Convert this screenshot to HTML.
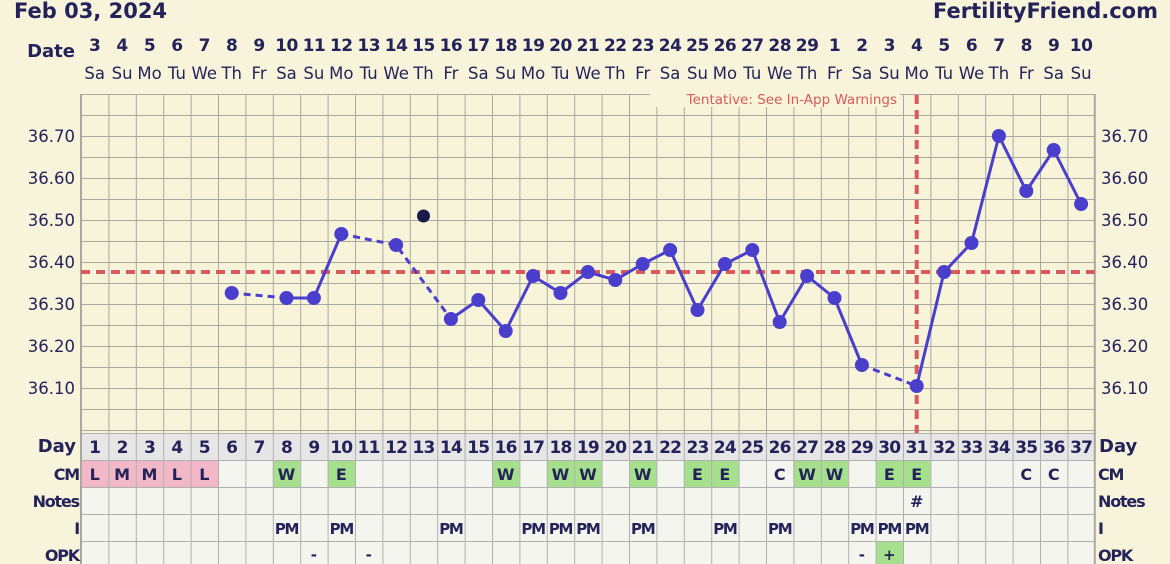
<!DOCTYPE html>
<html><head><meta charset="utf-8"><style>
html,body{margin:0;padding:0;background:#f8f4dc;}
svg{display:block;font-family:"DejaVu Sans","Liberation Sans",sans-serif;}
.b{font-weight:bold;fill:#23235a;}
.n{fill:#23235a;}
</style></head><body>
<svg width="1170" height="564" viewBox="0 0 1170 564" xmlns="http://www.w3.org/2000/svg">
<defs>
<pattern id="g" x="81" y="94" width="27.4" height="21" patternUnits="userSpaceOnUse">
<path d="M0 0V21M0 0H27.4" stroke="#a8a8a0" stroke-width="2" fill="none"/>
</pattern>
<pattern id="t" x="81" y="433" width="27.4" height="27" patternUnits="userSpaceOnUse">
<path d="M0 0V27M0 0H27.4" stroke="#b0b0b0" stroke-width="2" fill="none"/>
</pattern>
</defs>
<rect width="1170" height="564" fill="#f8f4dc"/>
<rect x="81" y="94" width="1014" height="339" fill="#f8f4da"/>
<rect x="81" y="94" width="1014" height="339" fill="url(#g)"/>
<rect x="81" y="433" width="1014" height="131" fill="#f5f5ef"/>
<rect x="81" y="433" width="1014" height="27" fill="#e6e6e6"/>
<g fill="#f2b8c8"><rect x="81" y="460" width="137" height="27"/></g>
<g fill="#a6e08c">
<rect x="272.8" y="460" width="27.4" height="27"/><rect x="327.6" y="460" width="27.4" height="27"/>
<rect x="492" y="460" width="27.4" height="27"/><rect x="546.8" y="460" width="54.8" height="27"/>
<rect x="629" y="460" width="27.4" height="27"/><rect x="683.8" y="460" width="54.8" height="27"/>
<rect x="793.4" y="460" width="54.8" height="27"/><rect x="875.6" y="460" width="54.8" height="27"/>
<rect x="875.6" y="541" width="27.4" height="23"/>
</g>
<rect x="81" y="433" width="1014" height="131" fill="url(#t)"/>
<path d="M1094.8 94V564M81 94V564" stroke="#a8a8a0" stroke-width="2"/>

<text x="14" y="18" class="b" font-size="21">Feb 03, 2024</text>
<text x="1158" y="18" class="b" font-size="21" text-anchor="end">FertilityFriend.com</text>
<text x="75" y="57" class="b" font-size="18" text-anchor="end">Date</text>

<g class="b" font-size="17" text-anchor="middle" letter-spacing="-0.5">
<text x="94.7" y="51">3</text><text x="122.1" y="51">4</text><text x="149.5" y="51">5</text><text x="176.9" y="51">6</text><text x="204.3" y="51">7</text><text x="231.7" y="51">8</text><text x="259.1" y="51">9</text><text x="286.5" y="51">10</text><text x="313.9" y="51">11</text><text x="341.3" y="51">12</text><text x="368.7" y="51">13</text><text x="396.1" y="51">14</text><text x="423.5" y="51">15</text><text x="450.9" y="51">16</text><text x="478.3" y="51">17</text><text x="505.7" y="51">18</text><text x="533.1" y="51">19</text><text x="560.5" y="51">20</text><text x="587.9" y="51">21</text><text x="615.3" y="51">22</text><text x="642.7" y="51">23</text><text x="670.1" y="51">24</text><text x="697.5" y="51">25</text><text x="724.9" y="51">26</text><text x="752.3" y="51">27</text><text x="779.7" y="51">28</text><text x="807.1" y="51">29</text><text x="834.5" y="51">1</text><text x="861.9" y="51">2</text><text x="889.3" y="51">3</text><text x="916.7" y="51">4</text><text x="944.1" y="51">5</text><text x="971.5" y="51">6</text><text x="998.9" y="51">7</text><text x="1026.3" y="51">8</text><text x="1053.7" y="51">9</text><text x="1081.1" y="51">10</text>
</g>
<g class="n" font-size="16.5" text-anchor="middle">
<text x="94.7" y="79">Sa</text><text x="122.1" y="79">Su</text><text x="149.5" y="79">Mo</text><text x="176.9" y="79">Tu</text><text x="204.3" y="79">We</text><text x="231.7" y="79">Th</text><text x="259.1" y="79">Fr</text><text x="286.5" y="79">Sa</text><text x="313.9" y="79">Su</text><text x="341.3" y="79">Mo</text><text x="368.7" y="79">Tu</text><text x="396.1" y="79">We</text><text x="423.5" y="79">Th</text><text x="450.9" y="79">Fr</text><text x="478.3" y="79">Sa</text><text x="505.7" y="79">Su</text><text x="533.1" y="79">Mo</text><text x="560.5" y="79">Tu</text><text x="587.9" y="79">We</text><text x="615.3" y="79">Th</text><text x="642.7" y="79">Fr</text><text x="670.1" y="79">Sa</text><text x="697.5" y="79">Su</text><text x="724.9" y="79">Mo</text><text x="752.3" y="79">Tu</text><text x="779.7" y="79">We</text><text x="807.1" y="79">Th</text><text x="834.5" y="79">Fr</text><text x="861.9" y="79">Sa</text><text x="889.3" y="79">Su</text><text x="916.7" y="79">Mo</text><text x="944.1" y="79">Tu</text><text x="971.5" y="79">We</text><text x="998.9" y="79">Th</text><text x="1026.3" y="79">Fr</text><text x="1053.7" y="79">Sa</text><text x="1081.1" y="79">Su</text>
</g>

<g class="n" font-size="16.5" text-anchor="end">
<text x="75" y="142">36.70</text><text x="75" y="184">36.60</text><text x="75" y="226">36.50</text><text x="75" y="268">36.40</text><text x="75" y="310">36.30</text><text x="75" y="352">36.20</text><text x="75" y="394">36.10</text>
</g>
<g class="n" font-size="16.5">
<text x="1101" y="142">36.70</text><text x="1101" y="184">36.60</text><text x="1101" y="226">36.50</text><text x="1101" y="268">36.40</text><text x="1101" y="310">36.30</text><text x="1101" y="352">36.20</text><text x="1101" y="394">36.10</text>
</g>

<rect x="650" y="90" width="250" height="17" fill="#f8f4da"/>
<text x="897" y="104" font-size="13.5" fill="#d85a5a" text-anchor="end">Tentative: See In-App Warnings</text>

<line x1="81" y1="272" x2="1095" y2="272" stroke="#d85a5a" stroke-width="4" stroke-dasharray="9,6"/>
<line x1="916.7" y1="95" x2="916.7" y2="433" stroke="#d85a5a" stroke-width="4" stroke-dasharray="9,6"/>

<g stroke="#4a3fcc" stroke-width="3" fill="none">
<path d="M231.7 293L286.5 298M341.3 234L396.1 245L450.9 319M861.9 365L916.7 386" stroke-dasharray="7,5"/>
<path d="M286.5 298L313.9 298L341.3 234"/>
<path d="M450.9 319L478.3 300L505.7 331L533.1 276L560.5 293L587.9 272L615.3 280L642.7 264L670.1 250L697.5 310L724.9 264L752.3 250L779.7 322L807.1 276L834.5 298L861.9 365"/>
<path d="M916.7 386L944.1 272L971.5 243L998.9 136L1026.3 191L1053.7 150L1081.1 204"/>
</g>
<g fill="#4a3fcc">
<circle cx="231.7" cy="293" r="7"/><circle cx="286.5" cy="298" r="7"/><circle cx="313.9" cy="298" r="7"/><circle cx="341.3" cy="234" r="7"/><circle cx="396.1" cy="245" r="7"/><circle cx="450.9" cy="319" r="7"/><circle cx="478.3" cy="300" r="7"/><circle cx="505.7" cy="331" r="7"/><circle cx="533.1" cy="276" r="7"/><circle cx="560.5" cy="293" r="7"/><circle cx="587.9" cy="272" r="7"/><circle cx="615.3" cy="280" r="7"/><circle cx="642.7" cy="264" r="7"/><circle cx="670.1" cy="250" r="7"/><circle cx="697.5" cy="310" r="7"/><circle cx="724.9" cy="264" r="7"/><circle cx="752.3" cy="250" r="7"/><circle cx="779.7" cy="322" r="7"/><circle cx="807.1" cy="276" r="7"/><circle cx="834.5" cy="298" r="7"/><circle cx="861.9" cy="365" r="7"/><circle cx="916.7" cy="386" r="7"/><circle cx="944.1" cy="272" r="7"/><circle cx="971.5" cy="243" r="7"/><circle cx="998.9" cy="136" r="7"/><circle cx="1026.3" cy="191" r="7"/><circle cx="1053.7" cy="150" r="7"/><circle cx="1081.1" cy="204" r="7"/>
</g>
<circle cx="423.5" cy="216" r="6.5" fill="#1c1a4a"/>

<g class="b" font-size="18" text-anchor="end"><text x="76" y="452">Day</text></g>
<g class="b" font-size="16" text-anchor="end" letter-spacing="-1.2">
<text x="79" y="480">CM</text><text x="79" y="507">Notes</text><text x="79" y="534">I</text><text x="79" y="561">OPK</text>
</g>
<g class="b" font-size="18"><text x="1099" y="452">Day</text></g>
<g class="b" font-size="16" letter-spacing="-1.2">
<text x="1098" y="480">CM</text><text x="1098" y="507">Notes</text><text x="1098" y="534">I</text><text x="1098" y="561">OPK</text>
</g>

<g class="b" font-size="17" text-anchor="middle" letter-spacing="-0.8">
<text x="94.7" y="453">1</text><text x="122.1" y="453">2</text><text x="149.5" y="453">3</text><text x="176.9" y="453">4</text><text x="204.3" y="453">5</text><text x="231.7" y="453">6</text><text x="259.1" y="453">7</text><text x="286.5" y="453">8</text><text x="313.9" y="453">9</text><text x="341.3" y="453">10</text><text x="368.7" y="453">11</text><text x="396.1" y="453">12</text><text x="423.5" y="453">13</text><text x="450.9" y="453">14</text><text x="478.3" y="453">15</text><text x="505.7" y="453">16</text><text x="533.1" y="453">17</text><text x="560.5" y="453">18</text><text x="587.9" y="453">19</text><text x="615.3" y="453">20</text><text x="642.7" y="453">21</text><text x="670.1" y="453">22</text><text x="697.5" y="453">23</text><text x="724.9" y="453">24</text><text x="752.3" y="453">25</text><text x="779.7" y="453">26</text><text x="807.1" y="453">27</text><text x="834.5" y="453">28</text><text x="861.9" y="453">29</text><text x="889.3" y="453">30</text><text x="916.7" y="453">31</text><text x="944.1" y="453">32</text><text x="971.5" y="453">33</text><text x="998.9" y="453">34</text><text x="1026.3" y="453">35</text><text x="1053.7" y="453">36</text><text x="1081.1" y="453">37</text>
</g>
<g class="b" font-size="16" text-anchor="middle">
<text x="94.7" y="480">L</text><text x="122.1" y="480">M</text><text x="149.5" y="480">M</text><text x="176.9" y="480">L</text><text x="204.3" y="480">L</text>
<text x="286.5" y="480">W</text><text x="341.3" y="480">E</text><text x="505.7" y="480">W</text><text x="560.5" y="480">W</text><text x="587.9" y="480">W</text><text x="642.7" y="480">W</text><text x="697.5" y="480">E</text><text x="724.9" y="480">E</text><text x="779.7" y="480">C</text><text x="807.1" y="480">W</text><text x="834.5" y="480">W</text><text x="889.3" y="480">E</text><text x="916.7" y="480">E</text><text x="1026.3" y="480">C</text><text x="1053.7" y="480">C</text>
<text x="916.7" y="507">#</text>
</g>
<g class="b" font-size="15" text-anchor="middle" letter-spacing="-1.3">
<text x="286.5" y="534">PM</text><text x="341.3" y="534">PM</text><text x="450.9" y="534">PM</text><text x="533.1" y="534">PM</text><text x="560.5" y="534">PM</text><text x="587.9" y="534">PM</text><text x="642.7" y="534">PM</text><text x="724.9" y="534">PM</text><text x="779.7" y="534">PM</text><text x="861.9" y="534">PM</text><text x="889.3" y="534">PM</text><text x="916.7" y="534">PM</text>
</g>
<g class="b" font-size="15" text-anchor="middle">
<text x="313.9" y="560">-</text><text x="368.7" y="560">-</text><text x="861.9" y="560">-</text><text x="889.3" y="560">+</text>
</g>
</svg>
</body></html>
